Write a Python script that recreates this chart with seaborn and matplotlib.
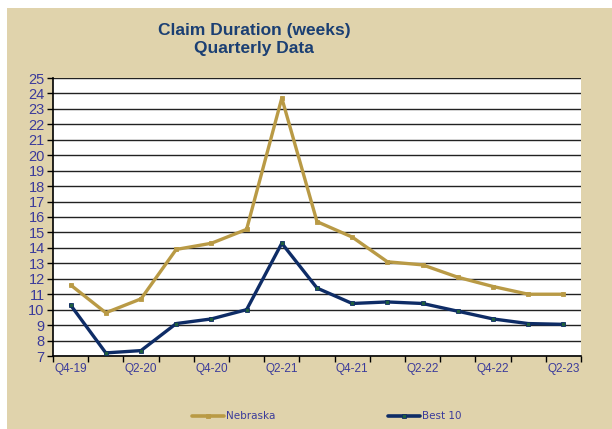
import pandas as pd
import matplotlib.pyplot as plt
import matplotlib.patches as mpatches
import seaborn as sns

# Data
quarters = ["Q4-19", "Q1-20", "Q2-20", "Q3-20", "Q4-20", "Q1-21", "Q2-21", "Q3-21",
            "Q4-21", "Q1-22", "Q2-22", "Q3-22", "Q4-22", "Q1-23", "Q2-23"]
nebraska = [11.6, 9.8, 10.7, 13.9, 14.3, 15.2, 23.7, 15.7, 14.7, 13.1, 12.9, 12.1, 11.5, 11.0, 11.0]
best10 = [10.3, 7.2, 7.35, 9.1, 9.4, 10.0, 14.3, 11.4, 10.4, 10.5, 10.4, 9.9, 9.4, 9.1, 9.05]
xlabels = ["Q4-19", "Q2-20", "Q4-20", "Q2-21", "Q4-21", "Q2-22", "Q4-22", "Q2-23"]

tan = "#E0D3AC"
text_col = "#3B3B9B"
colors = {"Nebraska": "#B99A45", "Best 10": "#0E2C66"}
marker_fc = {"Nebraska": "#B99A45", "Best 10": "#1E5E3E"}

df = pd.DataFrame({
    "Quarter": quarters * 2,
    "Weeks": nebraska + best10,
    "Series": ["Nebraska"] * len(quarters) + ["Best 10"] * len(quarters),
})

sns.set_style("white")
plt.rcParams['font.family'] = ['Liberation Sans', 'DejaVu Sans']

fig = plt.figure(figsize=(6.12, 4.29), dpi=100)
fig.patch.set_facecolor("white")
# tan panel, with a thin white strip at top and left like the original
fig.patches.append(mpatches.Rectangle((7 / 612, 0), 1, 1 - 8 / 429, transform=fig.transFigure,
                                      facecolor=tan, edgecolor="none", zorder=-10))

ax = fig.add_axes([53 / 612, (429 - 356) / 429, (581 - 53) / 612, (356 - 78) / 429])
ax.set_facecolor("white")

sns.lineplot(data=df, x="Quarter", y="Weeks", hue="Series", palette=colors,
             style="Series", markers={"Nebraska": "s", "Best 10": "s"}, dashes=False,
             markersize=3, linewidth=2.4, ax=ax, sort=False, legend=False, zorder=3)
for line in ax.lines:
    for name, c in colors.items():
        if line.get_color() == c:
            line.set_markerfacecolor(marker_fc[name])
            line.set_markeredgecolor(c)
            line.set_markeredgewidth(0.6)

ax.set_xlim(-0.5, len(quarters) - 0.5)
ax.set_ylim(7, 25)
ax.set_yticks(range(7, 26))
ax.tick_params(axis="y", labelsize=10.5, labelcolor=text_col, length=4, width=1,
               color="black", direction="out", left=True, pad=2)
ax.yaxis.grid(True, color="#222222", linewidth=1)
ax.set_axisbelow(True)

ax.set_xticks([quarters.index(q) for q in xlabels])
ax.set_xticklabels(xlabels)
ax.set_xticks([i - 0.5 for i in range(len(quarters) + 1)], minor=True)
ax.tick_params(axis="x", which="major", length=0, labelsize=8.5, labelcolor=text_col, pad=5)
ax.tick_params(axis="x", which="minor", length=4, width=1, color="black", direction="out", bottom=True)
ax.set_xlabel("")
ax.set_ylabel("")

for s in ["top", "right"]:
    ax.spines[s].set_visible(False)
for s in ["left", "bottom"]:
    ax.spines[s].set_color("black")
    ax.spines[s].set_linewidth(1.2)

fig.text(254 / 612, 1 - 39 / 429, "Claim Duration (weeks)\nQuarterly Data", ha="center", va="center",
         fontsize=12.5, fontweight="bold", color="#1B3F73", linespacing=1.25)

# legend drawn as two separate entries like the original
for name, x0 in [("Nebraska", 192), ("Best 10", 388)]:
    lx = [x0 / 612, (x0 + 16) / 612, (x0 + 32) / 612]
    ly = [1 - 416 / 429] * 3
    fig.add_artist(plt.Line2D(lx, ly, color=colors[name], linewidth=2.6,
                              marker="s", markersize=3, markevery=[1],
                              markerfacecolor=marker_fc[name], markeredgecolor=colors[name],
                              markeredgewidth=0.6, transform=fig.transFigure))
    fig.text((x0 + 34) / 612, 1 - 416 / 429, name, ha="left", va="center",
             fontsize=7.5, color=text_col, family=["DejaVu Sans"])

fig.savefig("out.png", dpi=100, facecolor=fig.get_facecolor())
